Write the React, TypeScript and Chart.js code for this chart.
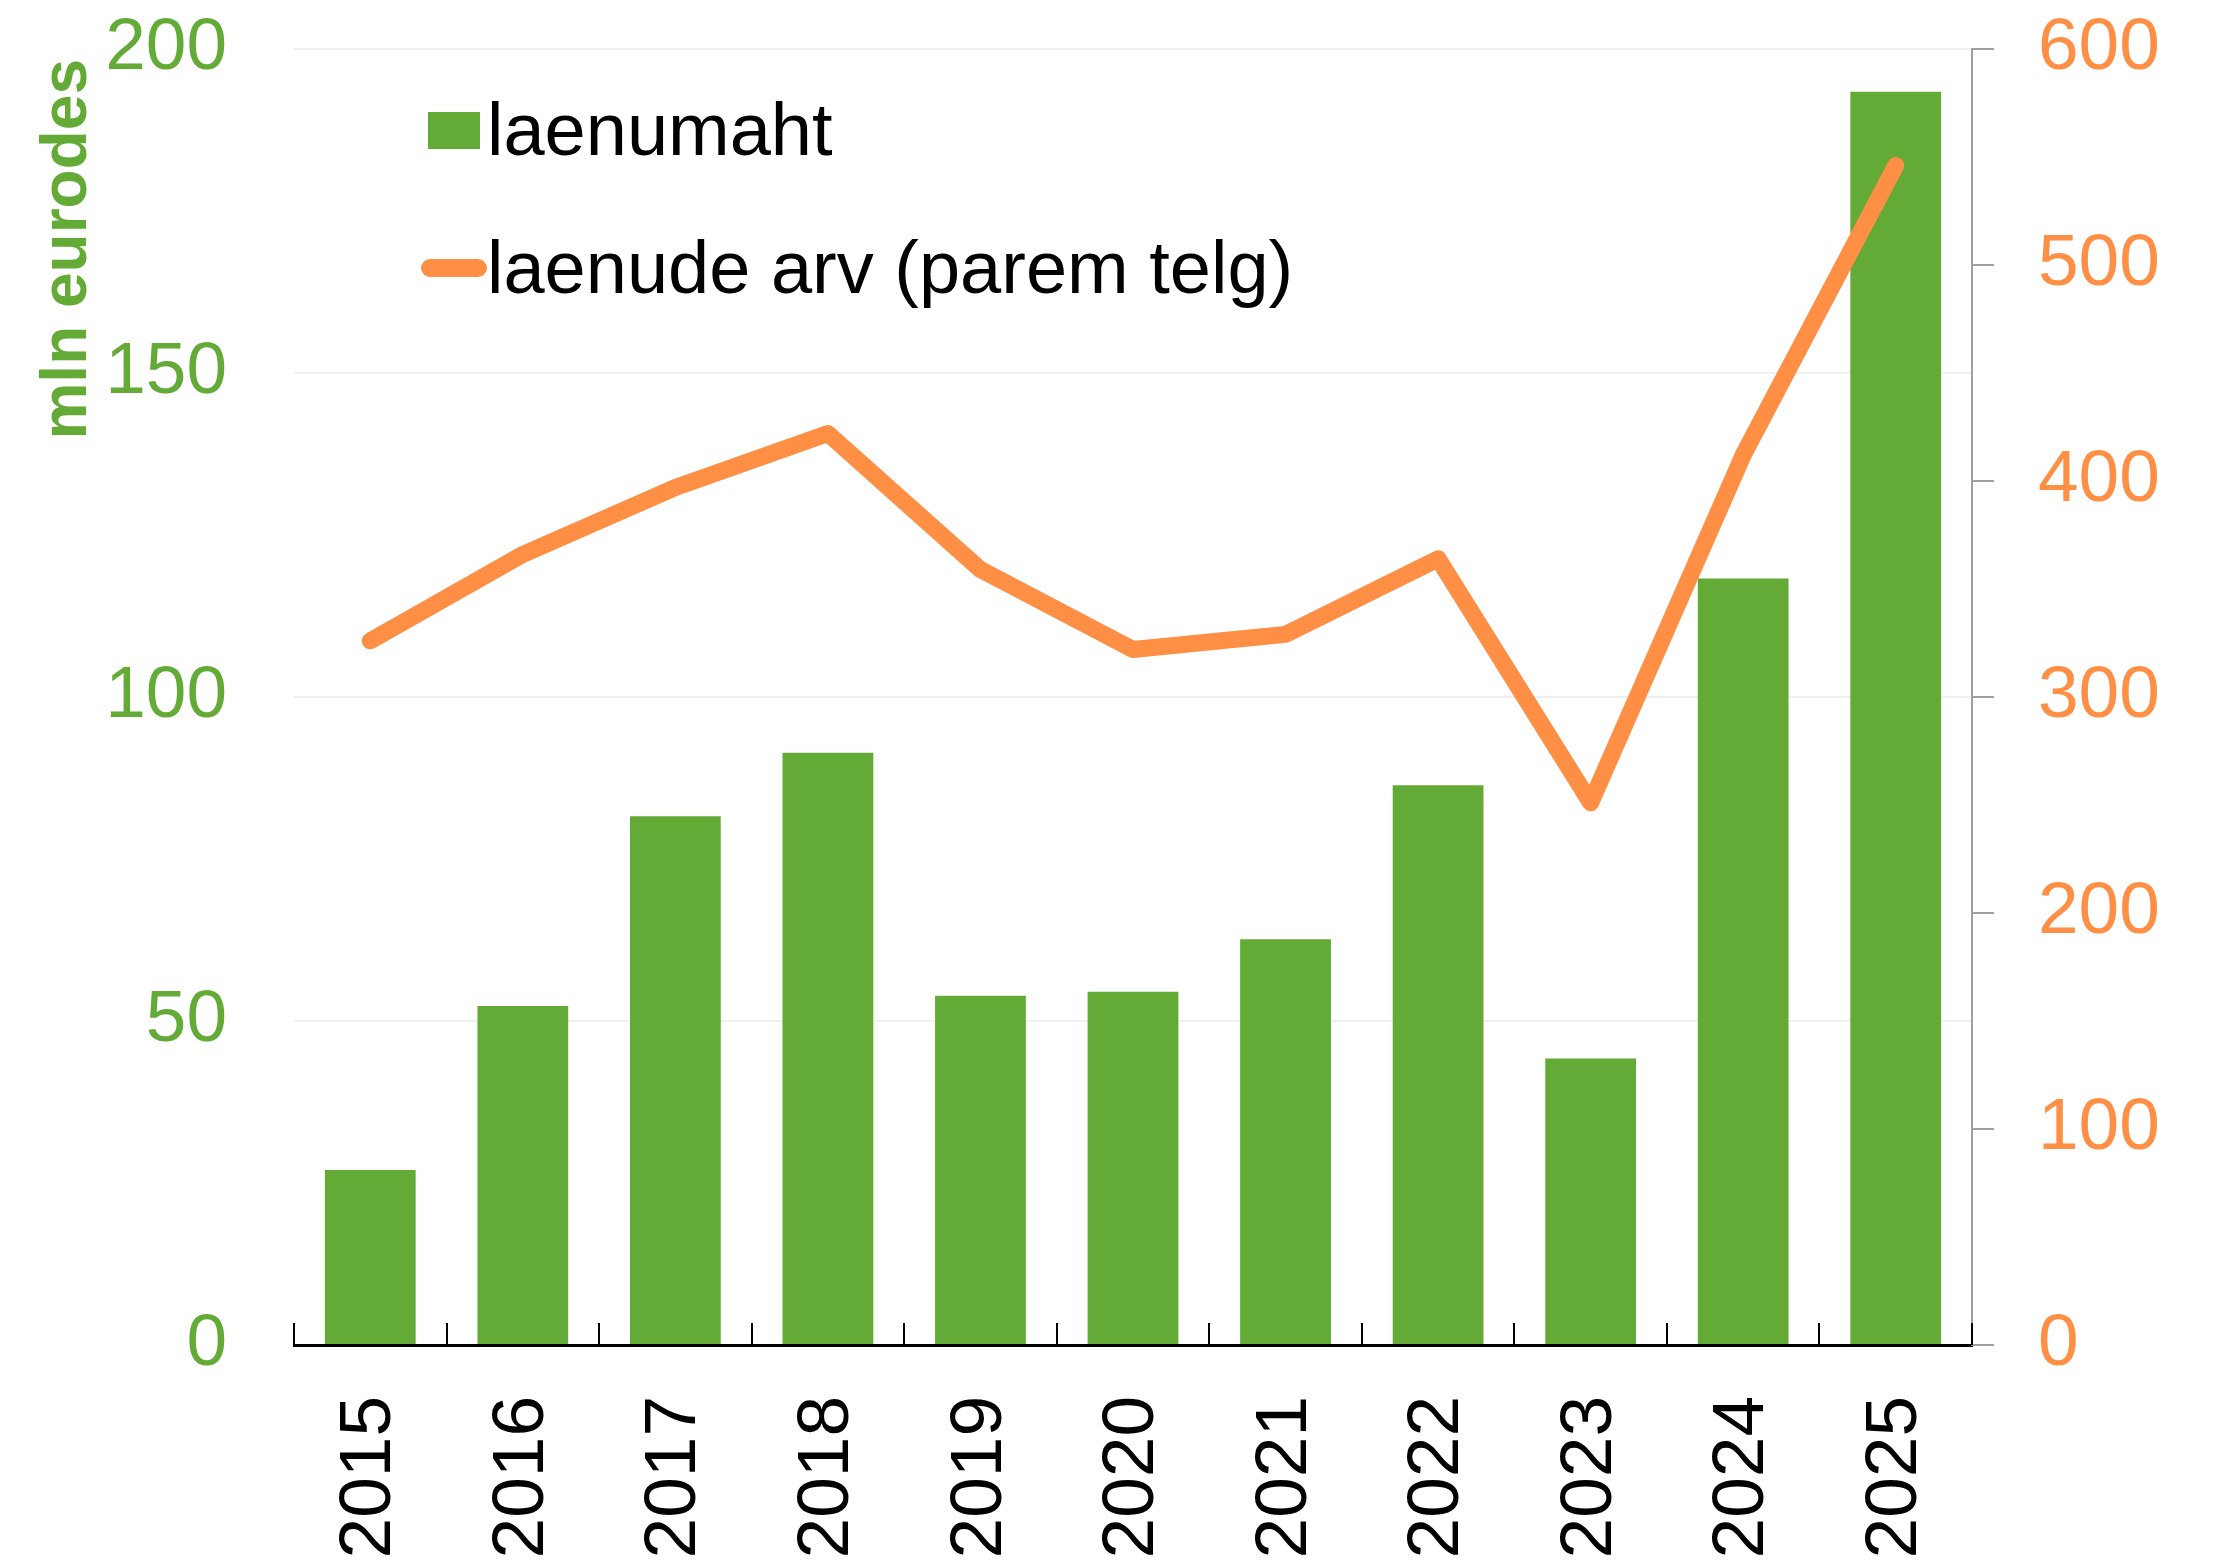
import React, { useEffect, useRef } from "react";
import { Chart, registerables } from "chart.js";

Chart.register(...registerables);

const categories = ["2015", "2016", "2017", "2018", "2019", "2020", "2021", "2022", "2023", "2024", "2025"];
const loanVolume = [27, 52.3, 81.6, 91.4, 53.9, 54.5, 62.6, 86.4, 44.2, 118.3, 193.4];
const loanCount = [326, 366, 397, 422, 359, 322, 329, 364, 251, 412, 546];
const leftTicks = [0, 50, 100, 150, 200];
const rightTicks = [0, 100, 200, 300, 400, 500, 600];
const leftAxisTitle = "mln eurodes";

const GREEN = "#63AA36";
const ORANGE = "#FF8F45";
const FONT = "'Liberation Sans', Arial, sans-serif";

const innerTicksPlugin = {
  id: "innerTicks",
  afterDraw(chart: any) {
    const x = chart.scales.x;
    const ctx = chart.ctx;
    const n = categories.length;
    const bottom = chart.chartArea.bottom;
    ctx.save();
    ctx.strokeStyle = "#000";
    ctx.lineWidth = 2;
    for (let i = 0; i <= n; i++) {
      const px = Math.round(x.left + (i * (x.right - x.left)) / n);
      ctx.beginPath();
      ctx.moveTo(px, bottom);
      ctx.lineTo(px, bottom - 22);
      ctx.stroke();
    }
    ctx.restore();
  },
};

const axisTitlePlugin = {
  id: "leftAxisTitle",
  afterDraw(chart: any) {
    const ctx = chart.ctx;
    const top = chart.chartArea.top;
    ctx.save();
    ctx.translate(68, top + 10);
    ctx.rotate(-Math.PI / 2);
    ctx.font = `bold 64px ${FONT}`;
    ctx.fillStyle = GREEN;
    ctx.textAlign = "right";
    ctx.textBaseline = "middle";
    ctx.fillText(leftAxisTitle, 0, 0);
    ctx.restore();
  },
};

const legendPlugin = {
  id: "customLegend",
  afterDraw(chart: any) {
    const ctx = chart.ctx;
    const ds = chart.data.datasets;
    const bar = ds.find((d: any) => d.type === "bar");
    const line = ds.find((d: any) => d.type === "line");
    ctx.save();
    ctx.font = `74px ${FONT}`;
    ctx.textBaseline = "alphabetic";
    ctx.textAlign = "left";
    ctx.fillStyle = bar.backgroundColor;
    ctx.fillRect(428, 112, 52, 37);
    ctx.fillStyle = "#000";
    ctx.fillText(bar.label, 487, 155);
    ctx.strokeStyle = line.borderColor;
    ctx.lineWidth = 18;
    ctx.lineCap = "round";
    ctx.beginPath();
    ctx.moveTo(430, 268);
    ctx.lineTo(478, 268);
    ctx.stroke();
    ctx.fillStyle = "#000";
    ctx.fillText(line.label, 487, 293);
    ctx.restore();
  },
};

function noVerticalPadding(scale: any) {
  scale.paddingTop = 0;
  scale.paddingBottom = 0;
}

export default function App() {
  const ref = useRef<HTMLCanvasElement | null>(null);

  useEffect(() => {
    if (!ref.current) return;
    const chart = new Chart(ref.current, {
      data: {
        labels: categories,
        datasets: [
          {
            type: "line",
            label: "laenude arv (parem telg)",
            data: loanCount,
            yAxisID: "y1",
            borderColor: ORANGE,
            backgroundColor: ORANGE,
            borderWidth: 17,
            borderCapStyle: "round",
            borderJoinStyle: "round",
            pointRadius: 0,
            tension: 0,
            order: 0,
          } as any,
          {
            type: "bar",
            label: "laenumaht",
            data: loanVolume,
            yAxisID: "y",
            backgroundColor: GREEN,
            borderWidth: 0,
            categoryPercentage: 1,
            barPercentage: 0.595,
            order: 1,
          } as any,
        ],
      },
      options: {
        responsive: false,
        animation: false,
        layout: { padding: { top: 49, left: 0, right: 0, bottom: 0 } },
        plugins: {
          legend: { display: false },
          tooltip: { enabled: false },
        },
        scales: {
          x: {
            type: "category",
            offset: true,
            grid: { display: false, drawTicks: false },
            border: { display: true, color: "#000", width: 3 },
            ticks: {
              color: "#000",
              font: { family: FONT, size: 73 },
              maxRotation: 90,
              minRotation: 90,
              autoSkip: false,
              padding: 51,
            },
            afterFit(scale: any) {
              scale.height = 217;
            },
          },
          y: {
            type: "linear",
            position: "left",
            min: 0,
            max: 200,
            afterBuildTicks(scale: any) {
              scale.ticks = leftTicks.map((v) => ({ value: v }));
            },
            grid: {
              color: (c: any) => (c.tick && c.tick.value === 0 ? "rgba(0,0,0,0)" : "#F0F0F0"),
              lineWidth: 2,
              drawTicks: false,
            },
            border: { display: false },
            ticks: {
              color: GREEN,
              font: { family: FONT, size: 73 },
              padding: 67,
            },
            afterFit(scale: any) {
              scale.width = 294;
              noVerticalPadding(scale);
            },
          },
          y1: {
            type: "linear",
            position: "right",
            min: 0,
            max: 600,
            afterBuildTicks(scale: any) {
              scale.ticks = rightTicks.map((v) => ({ value: v }));
            },
            grid: {
              drawOnChartArea: false,
              drawTicks: true,
              tickLength: 22,
              color: "#A0A0A0",
              lineWidth: 2,
            },
            border: { display: true, color: "#A0A0A0", width: 2 },
            ticks: {
              color: ORANGE,
              font: { family: FONT, size: 73 },
              padding: 44,
            },
            afterFit(scale: any) {
              scale.width = 244;
              noVerticalPadding(scale);
            },
          },
        },
      } as any,
      plugins: [innerTicksPlugin, axisTitlePlugin, legendPlugin],
    });
    return () => chart.destroy();
  }, []);

  return (
    <div style={{ position: "fixed", left: 0, top: 0, width: 2216, height: 1562, background: "#fff" }}>
      <canvas ref={ref} width={2216} height={1562} style={{ width: 2216, height: 1562, display: "block" }} />
    </div>
  );
}
